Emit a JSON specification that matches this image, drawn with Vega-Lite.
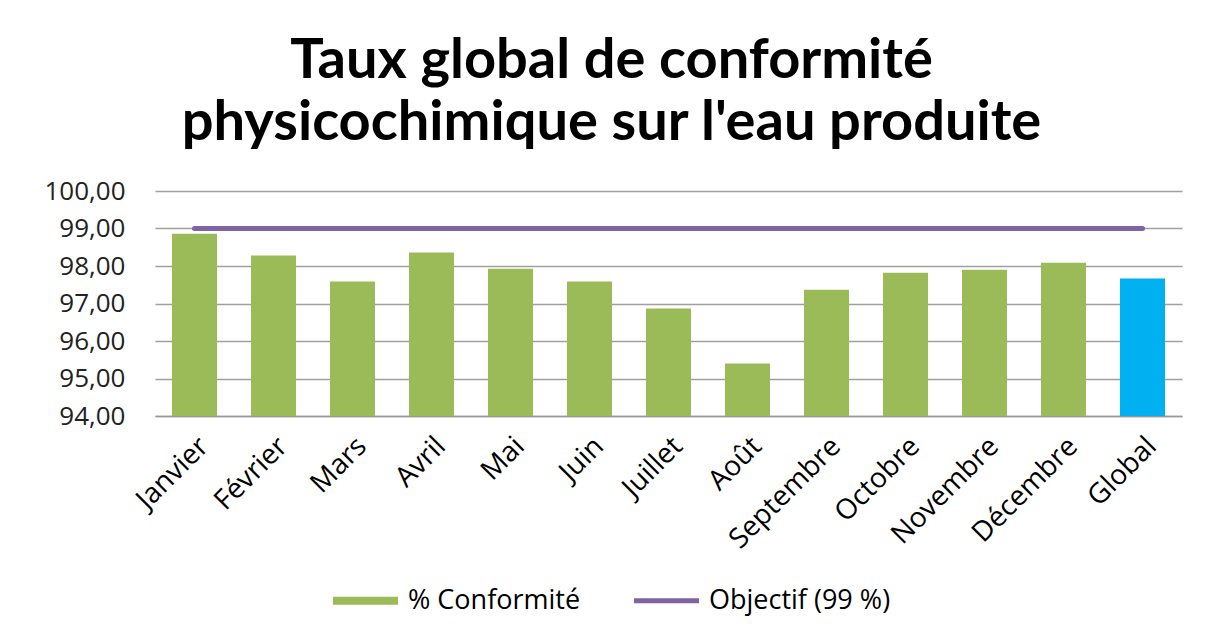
{
  "$schema": "https://vega.github.io/schema/vega-lite/v6.json",
  "width": 1027,
  "height": 225,
  "autosize": "none",
  "padding": {"left": 155, "top": 191, "right": 28, "bottom": 227},
  "background": "white",
  "config": {
    "font": "Open Sans",
    "view": {"stroke": null}
  },
  "title": {
    "text": ["Taux global de conformité", "physicochimique sur l'eau produite"],
    "font": "Lato",
    "fontSize": 56,
    "fontWeight": "bold",
    "color": "#000000",
    "lineHeight": 62,
    "anchor": "middle",
    "dx": -57,
    "offset": 26
  },
  "data": {
    "values": [
      {"mois": "Janvier", "valeur": 98.86, "objectif": 99},
      {"mois": "Février", "valeur": 98.28, "objectif": 99},
      {"mois": "Mars", "valeur": 97.59, "objectif": 99},
      {"mois": "Avril", "valeur": 98.36, "objectif": 99},
      {"mois": "Mai", "valeur": 97.93, "objectif": 99},
      {"mois": "Juin", "valeur": 97.59, "objectif": 99},
      {"mois": "Juillet", "valeur": 96.87, "objectif": 99},
      {"mois": "Août", "valeur": 95.40, "objectif": 99},
      {"mois": "Septembre", "valeur": 97.37, "objectif": 99},
      {"mois": "Octobre", "valeur": 97.82, "objectif": 99},
      {"mois": "Novembre", "valeur": 97.90, "objectif": 99},
      {"mois": "Décembre", "valeur": 98.09, "objectif": 99},
      {"mois": "Global", "valeur": 97.67, "objectif": 99}
    ]
  },
  "encoding": {
    "x": {
      "field": "mois",
      "type": "nominal",
      "sort": null,
      "scale": {"paddingInner": 0.43, "paddingOuter": 0.215},
      "axis": {
        "title": null,
        "labelAngle": -45,
        "labelFont": "Open Sans",
        "labelFontSize": 28,
        "labelColor": "#000000",
        "labelPadding": 16,
        "ticks": false,
        "domainColor": "#9a9a9a",
        "domainWidth": 1.5,
        "grid": false
      }
    },
    "y": {
      "field": "valeur",
      "type": "quantitative",
      "scale": {"domain": [94, 100], "nice": false, "zero": false},
      "axis": {
        "title": null,
        "values": [94, 95, 96, 97, 98, 99, 100],
        "labelExpr": "replace(format(datum.value, '.2f'), '.', ',')",
        "labelOverlap": false,
        "labelFont": "Open Sans",
        "labelFontSize": 26,
        "labelColor": "#222222",
        "labelPadding": 30,
        "ticks": false,
        "domain": false,
        "grid": true,
        "gridColor": "#a0a0a0",
        "gridWidth": 1.5
      }
    }
  },
  "layer": [
    {
      "transform": [{"filter": "datum.mois !== 'Global'"}],
      "mark": {"type": "bar"},
      "encoding": {
        "y2": {"datum": 94},
        "color": {
          "datum": "% Conformité",
          "type": "nominal",
          "scale": {"domain": ["% Conformité", "Objectif (99 %)"], "range": ["#9BBB59", "#8064A2"]},
          "legend": {
            "title": null,
            "orient": "none",
            "direction": "horizontal",
            "legendX": 197,
            "legendY": 396,
            "symbolSize": 4225,
            "labelFont": "Open Sans",
            "labelFontSize": 27,
            "labelLimit": 400,
            "labelColor": "#000000",
            "labelOffset": 29,
            "columnPadding": 43,
            "encode": {
              "symbols": {
                "update": {
                  "shape": {"signal": "datum.value === '% Conformité' ? 'M-1,-0.125H1V0.125H-1Z' : 'stroke'"},
                  "size": {"value": 4225},
                  "fill": {"signal": "datum.value === '% Conformité' ? '#9BBB59' : 'transparent'"},
                  "stroke": {"signal": "datum.value === '% Conformité' ? 'transparent' : '#8064A2'"},
                  "strokeWidth": {"signal": "datum.value === '% Conformité' ? 0 : 5"},
                  "opacity": {"value": 1}
                }
              }
            }
          }
        }
      }
    },
    {
      "transform": [{"filter": "datum.mois === 'Global'"}],
      "mark": {"type": "bar", "color": "#00B0F0"},
      "encoding": {
        "y2": {"datum": 94}
      }
    },
    {
      "mark": {"type": "line", "strokeWidth": 5, "strokeCap": "round"},
      "encoding": {
        "y": {"field": "objectif", "type": "quantitative"},
        "color": {"datum": "Objectif (99 %)", "type": "nominal"}
      }
    }
  ]
}
